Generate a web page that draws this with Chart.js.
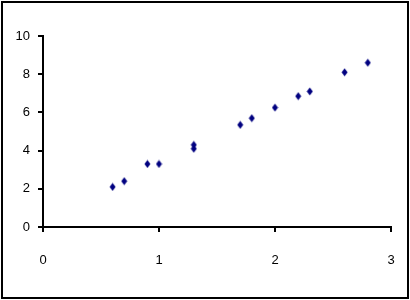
<!DOCTYPE html>
<html>
<head>
<meta charset="utf-8">
<script src="https://cdn.jsdelivr.net/npm/chart.js@4/dist/chart.umd.min.js"></script>
<style>
html,body{margin:0;padding:0;background:#fff;}
#wrap{width:410px;height:300px;position:relative;}
</style>
</head>
<body>
<div id="wrap"><canvas id="c" width="410" height="300"></canvas></div>
<script>
const xValues = [0.6, 0.7, 0.9, 1.0, 1.3, 1.3, 1.7, 1.8, 2.0, 2.2, 2.3, 2.6, 2.8];
const yValues = [2.1, 2.4, 3.3, 3.3, 4.1, 4.3, 5.35, 5.7, 6.25, 6.85, 7.1, 8.1, 8.6];
const xTicks = [0, 1, 2, 3];
const yTicks = [0, 2, 4, 6, 8, 10];

const points = xValues.map((x, i) => ({x: x, y: yValues[i]}));

const marker = document.createElement('canvas');
marker.width = 7; marker.height = 9;
(function(){
  const m = marker.getContext('2d');
  m.fillStyle = '#000080';
  m.beginPath();
  m.moveTo(3.5, 0.5); m.lineTo(6.5, 4.5); m.lineTo(3.5, 8.5); m.lineTo(0.5, 4.5);
  m.closePath(); m.fill();
})();

const borderPlugin = {
  id: 'outerBorder',
  afterDraw(chart) {
    const ctx = chart.ctx;
    ctx.save();
    ctx.strokeStyle = '#000';
    ctx.lineWidth = 2;
    ctx.strokeRect(2, 2, 406, 296);
    ctx.restore();
  }
};

new Chart(document.getElementById('c'), {
  type: 'scatter',
  data: {
    datasets: [{
      data: points,
      pointStyle: marker,
      backgroundColor: '#000080',
      borderColor: '#000080'
    }]
  },
  options: {
    responsive: false,
    animation: false,
    devicePixelRatio: 1,
    layout: { padding: { left: 0, top: 36, right: 19, bottom: 0 } },
    plugins: { legend: { display: false }, tooltip: { enabled: false } },
    scales: {
      x: {
        type: 'linear',
        min: 0, max: 3,
        afterBuildTicks(s) { s.ticks = xTicks.map(v => ({value: v})); },
        afterFit(s) { s.height = 73; s.paddingLeft = 0; s.paddingRight = 0; },
        border: { display: true, color: '#000', width: 2 },
        grid: { drawOnChartArea: false, color: '#000', lineWidth: 2, tickLength: 5, tickWidth: 2, tickColor: '#000' },
        ticks: { color: '#000', font: { family: 'Liberation Sans', size: 13 }, padding: 21, maxRotation: 0 }
      },
      y: {
        type: 'linear',
        min: 0, max: 10,
        afterBuildTicks(s) { s.ticks = yTicks.map(v => ({value: v})); },
        afterFit(s) { s.width = 43; s.paddingTop = 0; s.paddingBottom = 0; },
        border: { display: true, color: '#000', width: 2 },
        grid: { drawOnChartArea: false, color: '#000', lineWidth: 2, tickLength: 5, tickWidth: 2, tickColor: '#000' },
        ticks: { color: '#000', font: { family: 'Liberation Sans', size: 13 }, padding: 8 }
      }
    }
  },
  plugins: [borderPlugin]
});
</script>
</body>
</html>
